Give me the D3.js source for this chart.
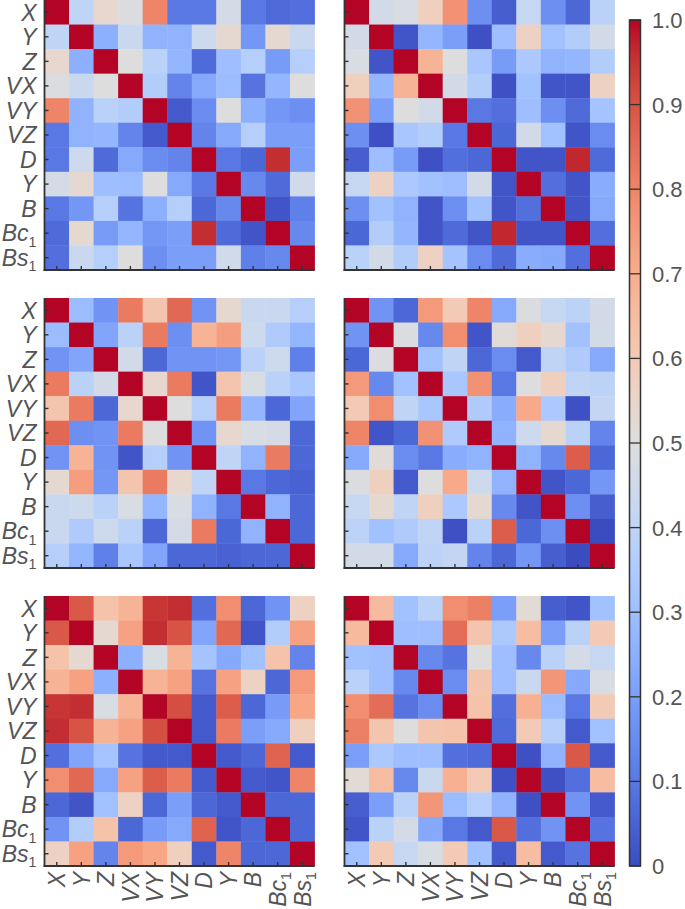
<!DOCTYPE html>
<html><head><meta charset="utf-8">
<script src="https://cdn.jsdelivr.net/npm/d3@7/dist/d3.min.js"></script>
<style>
html,body{margin:0;padding:0;background:#fff;}
svg{display:block;}
text{font-family:"Liberation Sans",Arial,sans-serif;}
</style></head>
<body><svg id="c" width="685" height="909"></svg>
<script>
// Variable labels (row/column order)
const labels = [
  {b:"X"},{b:"Y"},{b:"Z"},{b:"VX"},{b:"VY"},{b:"VZ"},{b:"D"},{b:"Y"},{b:"B"},{b:"Bc",s:"1"},{b:"Bs",s:"1"}
];
const cbTicks = [0,0.1,0.2,0.3,0.4,0.5,0.6,0.7,0.8,0.9,1.0];
const cbTickLabels = ["0","0.1","0.2","0.3","0.4","0.5","0.6","0.7","0.8","0.9","1.0"];

// Lower triangles (row i, columns 0..i-1); matrices are symmetric, diagonal = 1
const panelTopLeft = [
  [0.40],
  [0.54,0.25],
  [0.49,0.43,0.50],
  [0.80,0.26,0.38,0.36],
  [0.10,0.26,0.27,0.13,0.03],
  [0.10,0.44,0.07,0.23,0.15,0.13],
  [0.47,0.53,0.30,0.29,0.50,0.23,0.10],
  [0.10,0.18,0.37,0.09,0.25,0.37,0.06,0.14],
  [0.07,0.53,0.19,0.27,0.18,0.20,0.96,0.07,0.02],
  [0.08,0.43,0.37,0.50,0.16,0.20,0.20,0.45,0.12,0.14]
];
const panelTopRight = [
  [0.46],
  [0.48,0.02],
  [0.58,0.27,0.68],
  [0.77,0.20,0.50,0.46],
  [0.16,0.01,0.33,0.36,0.10],
  [0.04,0.30,0.19,0.01,0.08,0.06],
  [0.42,0.57,0.34,0.31,0.30,0.46,0.02],
  [0.16,0.31,0.26,0.02,0.16,0.31,0.02,0.08],
  [0.06,0.36,0.27,0.02,0.07,0.02,0.97,0.02,0.02],
  [0.38,0.46,0.36,0.57,0.32,0.15,0.07,0.24,0.23,0.08]
];
const panelMidLeft = [
  [0.29],
  [0.17,0.22],
  [0.82,0.38,0.46],
  [0.62,0.82,0.06,0.54],
  [0.86,0.16,0.17,0.82,0.50],
  [0.17,0.68,0.17,0.02,0.37,0.17],
  [0.53,0.74,0.18,0.62,0.82,0.54,0.40],
  [0.43,0.44,0.38,0.48,0.27,0.48,0.26,0.10],
  [0.43,0.35,0.44,0.38,0.06,0.47,0.82,0.06,0.26],
  [0.37,0.27,0.12,0.33,0.22,0.06,0.06,0.05,0.06,0.06]
];
const panelMidRight = [
  [0.17],
  [0.06,0.49],
  [0.75,0.14,0.31],
  [0.60,0.78,0.40,0.33],
  [0.80,0.02,0.06,0.77,0.35],
  [0.23,0.51,0.15,0.10,0.24,0.26],
  [0.49,0.58,0.03,0.50,0.71,0.44,0.26],
  [0.42,0.53,0.40,0.58,0.34,0.53,0.14,0.02],
  [0.39,0.31,0.35,0.40,0.01,0.38,0.88,0.06,0.16],
  [0.46,0.46,0.23,0.39,0.41,0.13,0.06,0.18,0.04,0.00]
];
const panelBotLeft = [
  [0.89],
  [0.63,0.53],
  [0.68,0.73,0.25],
  [0.95,0.96,0.48,0.68],
  [0.96,0.90,0.68,0.73,0.91],
  [0.08,0.22,0.32,0.09,0.03,0.03],
  [0.78,0.86,0.23,0.73,0.88,0.82,0.03],
  [0.06,0.02,0.31,0.57,0.06,0.20,0.06,0.03],
  [0.17,0.36,0.63,0.06,0.19,0.23,0.87,0.02,0.06],
  [0.57,0.73,0.13,0.75,0.72,0.58,0.03,0.80,0.06,0.06]
];
const panelBotRight = [
  [0.66],
  [0.31,0.30],
  [0.38,0.30,0.14],
  [0.78,0.85,0.09,0.15],
  [0.81,0.62,0.50,0.62,0.63],
  [0.20,0.34,0.30,0.30,0.08,0.07],
  [0.52,0.65,0.14,0.43,0.69,0.60,0.01],
  [0.04,0.20,0.38,0.76,0.29,0.37,0.26,0.01],
  [0.02,0.38,0.47,0.23,0.10,0.03,0.89,0.08,0.17],
  [0.31,0.60,0.42,0.48,0.60,0.31,0.03,0.65,0.03,0.09]
];

// coolwarm colormap (Moreland)
const cw = [[59,76,192],[68,90,204],[77,104,215],[87,117,225],[98,130,234],[108,142,241],[119,154,247],[130,165,251],[141,176,254],[152,185,255],[163,194,255],[174,201,253],[184,208,249],[194,213,244],[204,217,238],[213,219,230],[221,221,221],[229,216,209],[236,211,197],[241,204,184],[245,196,172],[247,187,159],[247,177,147],[247,166,134],[244,154,123],[241,141,112],[236,127,99],[229,112,89],[222,96,77],[213,80,66],[203,62,56],[192,40,47],[180,4,38]];
const color = d3.scaleLinear()
  .domain(cw.map((_,i)=>i/(cw.length-1)))
  .range(cw.map(c=>`rgb(${c[0]},${c[1]},${c[2]})`))
  .interpolate(d3.interpolateRgb).clamp(true);

function fullMatrix(tri){
  const n = labels.length;
  const m = [];
  for(let i=0;i<n;i++){ m.push([]); for(let j=0;j<n;j++){
    m[i].push(i===j?1:(i>j?tri[i-1][j]:tri[j-1][i]));
  }}
  return m;
}

const svg = d3.select("#c");
const size = 270;
const cols = [44.5, 344.5];
const rows = [0, 298, 596];
const panels = [
  {d:panelTopLeft, c:0, r:0},{d:panelTopRight, c:1, r:0},
  {d:panelMidLeft, c:0, r:1},{d:panelMidRight, c:1, r:1},
  {d:panelBotLeft, c:0, r:2},{d:panelBotRight, c:1, r:2}
];
const idx = d3.range(labels.length);
const band = d3.scaleBand().domain(idx).range([0,size]).padding(0);
const axisCol = "#333";
const txtCol = "#555";

function addLabel(sel, l, fs){
  sel.append("tspan").text(l.b);
  if(l.s) sel.append("tspan").attr("font-style","normal").attr("font-size",fs*0.62).attr("dy",fs*0.22).text(l.s);
}

panels.forEach(p=>{
  const m = fullMatrix(p.d);
  const g = svg.append("g").attr("transform",`translate(${cols[p.c]},${rows[p.r]})`);
  const cells = [];
  m.forEach((row,i)=>row.forEach((v,j)=>cells.push({i,j,v})));
  g.selectAll("rect.cell").data(cells).join("rect")
    .attr("x",d=>band(d.j)).attr("y",d=>band(d.i))
    .attr("width",band.bandwidth()+0.4).attr("height",band.bandwidth()+0.4)
    .attr("fill",d=>color(d.v));
  g.append("line").attr("x1",0).attr("x2",0).attr("y1",0).attr("y2",size+1)
    .attr("stroke",axisCol).attr("stroke-width",1.8);
  g.append("line").attr("x1",-0.9).attr("x2",size).attr("y1",size).attr("y2",size)
    .attr("stroke",axisCol).attr("stroke-width",1.8);
  idx.forEach(k=>{
    const c = band(k)+band.bandwidth()/2;
    g.append("line").attr("x1",0).attr("x2",4).attr("y1",c).attr("y2",c).attr("stroke",axisCol).attr("stroke-width",1.4);
    g.append("line").attr("x1",c).attr("x2",c).attr("y1",size).attr("y2",size-4).attr("stroke",axisCol).attr("stroke-width",1.4);
  });
  const fs = 23;
  if(p.c===0){
    idx.forEach(k=>{
      const t = g.append("text").attr("x",-8).attr("y",band(k)+band.bandwidth()/2)
        .attr("dy","0.36em").attr("text-anchor","end").attr("font-style","italic")
        .attr("font-size",fs).attr("fill",txtCol);
      addLabel(t, labels[k], fs);
    });
  }
  if(p.r===2){
    idx.forEach(k=>{
      const cx = band(k)+band.bandwidth()/2;
      const t = g.append("text").attr("transform",`translate(${cx},${size+6}) rotate(-90)`)
        .attr("dy","0.36em").attr("text-anchor","end").attr("font-style","italic")
        .attr("font-size",fs).attr("fill",txtCol);
      addLabel(t, labels[k], fs);
    });
  }
});

// colorbar
const cbX = 629.5, cbW = 11, cbTop = 20, cbBot = 866;
const cbScale = d3.scaleLinear().domain([0,1]).range([cbBot,cbTop]);
const defs = svg.append("defs");
const grad = defs.append("linearGradient").attr("id","cbg").attr("x1",0).attr("x2",0).attr("y1",1).attr("y2",0);
d3.range(0,1.0001,0.02).forEach(t=>grad.append("stop").attr("offset",t).attr("stop-color",color(t)));
svg.append("rect").attr("x",cbX).attr("y",cbTop).attr("width",cbW).attr("height",cbBot-cbTop)
  .attr("fill","url(#cbg)").attr("stroke",axisCol).attr("stroke-width",1.5);
cbTicks.forEach((t,i)=>{
  const y = cbScale(t);
  svg.append("line").attr("x1",cbX).attr("x2",cbX+cbW).attr("y1",y).attr("y2",y)
    .attr("stroke",axisCol).attr("stroke-width",1.3);
  svg.append("text").attr("x",652).attr("y",y).attr("dy","0.36em")
    .attr("font-size",22).attr("fill",txtCol).text(cbTickLabels[i]);
});
</script></body></html>
